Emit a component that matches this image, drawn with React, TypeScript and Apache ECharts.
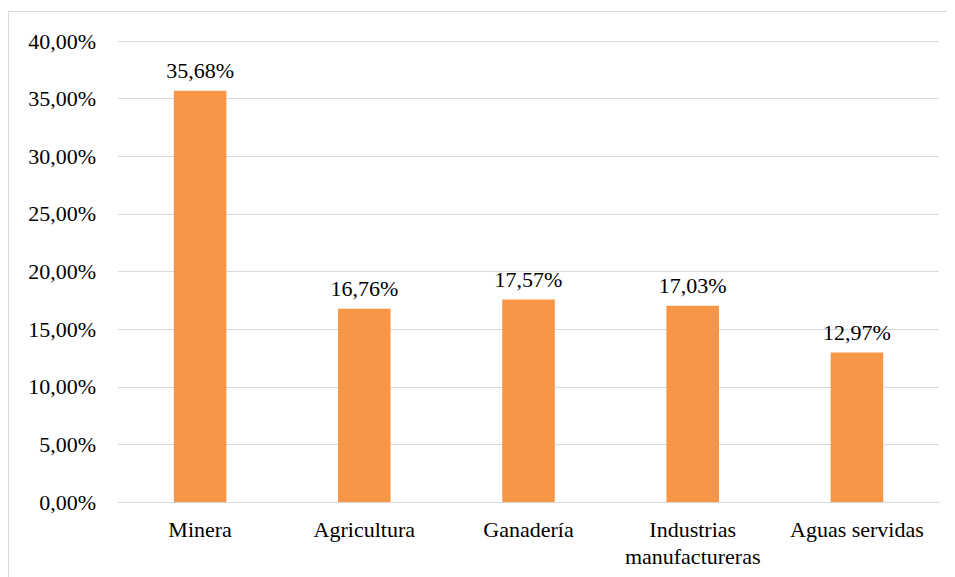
import React, { useEffect, useRef } from "react";
import * as echarts from "echarts";

const categories = ["Minera", "Agricultura", "Ganadería", "Industrias\nmanufactureras", "Aguas servidas"];
const values = [35.68, 16.76, 17.57, 17.03, 12.97];

const fmt = (v: number) => v.toFixed(2).replace(".", ",") + "%";

export default function App() {
  const ref = useRef<HTMLDivElement>(null);
  useEffect(() => {
    const chart = echarts.init(ref.current!, null, { renderer: "svg" });
    const font = "serif";
    const lbl = { color: "#000", fontSize: 22, fontFamily: font };
    chart.setOption({
      animation: false,
      textStyle: { fontFamily: font },
      grid: { left: 109, right: 16, top: 29, bottom: 76, containLabel: false },
      xAxis: {
        type: "category",
        data: categories,
        axisLine: { lineStyle: { color: "#d9d9d9", width: 1 } },
        axisTick: { show: false },
        axisLabel: { ...lbl, margin: 14, lineHeight: 27, interval: 0 },
      },
      yAxis: {
        type: "value",
        min: 0,
        max: 40,
        interval: 5,
        axisLine: { show: false },
        axisTick: { show: false },
        splitLine: { lineStyle: { color: "#d9d9d9", width: 1 } },
        axisLabel: { ...lbl, margin: 22, formatter: (v: number) => fmt(v) },
      },
      series: [
        {
          type: "bar",
          data: values,
          barWidth: "32%",
          itemStyle: { color: "#F79646" },
          label: { ...lbl, show: true, position: "top", distance: 9, formatter: (p: any) => fmt(p.value) },
        },
      ],
    });
    return () => chart.dispose();
  }, []);
  return (
    <div style={{ width: 947, height: 569, marginTop: 3, overflow: "hidden" }}>
      <div
        ref={ref}
        style={{
          width: 946,
          height: 566,
          borderLeft: "1px solid #d9d9d9",
          borderTop: "1px solid #d9d9d9",
        }}
      />
    </div>
  );
}
